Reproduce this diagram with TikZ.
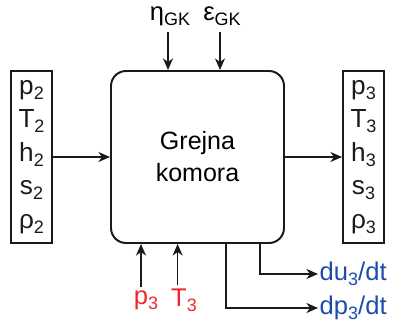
\documentclass[tikz,border=0pt]{standalone}
\usepackage{fontspec}
\setmainfont{Liberation Sans}
\usetikzlibrary{arrows.meta,positioning}
\definecolor{ink}{HTML}{1A1A1A}
\definecolor{red}{HTML}{F0262E}
\definecolor{blue}{HTML}{1C4DAE}
\newcommand\sub[1]{\raisebox{-3.6pt}{\fontsize{12.8}{12.8}\selectfont#1}}
\tikzset{
  block/.style={draw=ink,rounded corners=0.375cm,line width=1.4pt,align=center,
    minimum width=4.325cm,minimum height=4.3cm,
    font=\fontsize{17.8}{22.8}\selectfont},
  vars/.style={draw=ink,line width=1.4pt,align=center,inner sep=0pt,
    minimum width=1.025cm,minimum height=4.3cm,text=ink,
    font=\fontsize{18.6}{23.8}\selectfont},
  arr/.style={-{Stealth[length=2.9mm,width=2.5mm,inset=0.9mm]},line width=1.1pt,ink},
  lbl/.style={font=\fontsize{18.2}{22.8}\selectfont,inner sep=1pt}
}

\begin{document}
\begin{tikzpicture}
  \useasboundingbox (0,0) rectangle (9.85,8.275);

  \node[block] (chamber) at (4.9375,4.35) {Grejna\\komora};
  \node[vars] (inlet) at (0.7875,4.35)
    {p\sub{2}\\T\sub{2}\\h\sub{2}\\s\sub{2}\\ρ\sub{2}};
  \node[vars] (outlet) at (9.0875,4.35)
    {p\sub{3}\\T\sub{3}\\h\sub{3}\\s\sub{3}\\ρ\sub{3}};
  \draw[arr] (inlet.east) -- (chamber.west);
  \draw[arr] (chamber.east) -- (outlet.west);

  % parametri komore
  \node[lbl] (eta) at (4.25,7.86) {η\sub{GK}};
  \node[lbl] (eps) at (5.55,7.86) {ε\sub{GK}};
  \draw[arr] ([xshift=-0.05cm,yshift=-0.1cm]eta.south) -- ([xshift=-0.05cm]eta.south |- chamber.north);
  \draw[arr] ([xshift=-0.05cm,yshift=-0.1cm]eps.south) -- ([xshift=-0.05cm]eps.south |- chamber.north);

  % ulazi sa izlaza
  \node[lbl,text=red] (p_out) at (3.65,0.76) {p\sub{3}};
  \node[lbl,text=red] (T_out) at (4.6,0.76) {T\sub{3}};
  \draw[arr] ([xshift=-0.125cm,yshift=0.05cm]p_out.north) -- ([xshift=-0.125cm]p_out.north |- chamber.south);
  \draw[arr] ([xshift=-0.16cm,yshift=0.05cm]T_out.north) -- ([xshift=-0.16cm]T_out.north |- chamber.south);

  % derivacije
  \node[lbl,text=blue,anchor=west] (du) at (7.95,1.425) {du\sub{3}/dt};
  \node[lbl,text=blue,anchor=west] (dp) at (7.95,0.575) {dp\sub{3}/dt};
  \draw[arr] (chamber.south -| 6.5,0) |- (du.west);
  \draw[arr] (chamber.south -| 5.65,0) |- (dp.west);
\end{tikzpicture}
\end{document}
